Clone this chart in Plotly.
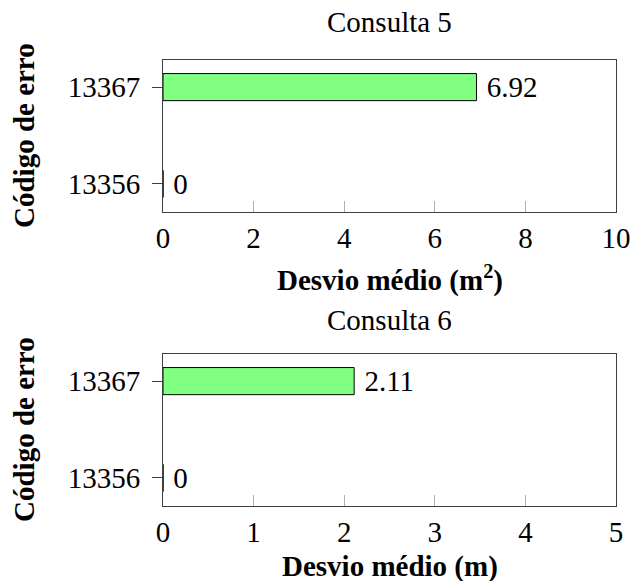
import plotly.graph_objects as go

categories = ["13356", "13367"]
values_c5 = [0, 6.92]
values_c6 = [0, 2.11]
labels_c5 = ["0", "6.92"]
labels_c6 = ["0", "2.11"]
xticks_c5 = [0, 2, 4, 6, 8, 10]
xticks_c6 = [0, 1, 2, 3, 4, 5]

W, H = 634, 581
FONT = "Liberation Serif, Times New Roman, serif"
FS = 29

fig = go.Figure()
for vals, labs, xa, ya in [(values_c5, labels_c5, "x", "y"), (values_c6, labels_c6, "x2", "y2")]:
    fig.add_trace(go.Bar(
        x=vals, y=categories, orientation="h", xaxis=xa, yaxis=ya,
        width=0.28, marker=dict(color="#80ff80", line=dict(color="black", width=1)),
        text=[" " + t for t in labs], textposition="outside", cliponaxis=False,
        constraintext="none",
        textfont=dict(family=FONT, size=FS, color="black"), showlegend=False,
    ))

def py(p):
    return 1 - p / H

xdom = [163 / W, 616 / W]
axis_common = dict(showline=True, mirror=True, linecolor="#404040", linewidth=1,
                   showgrid=False, zeroline=False, automargin=False,
                   tickfont=dict(family=FONT, size=FS, color="black"))
fig.update_layout(
    width=W, height=H, margin=dict(l=0, r=0, t=0, b=0, autoexpand=False),
    plot_bgcolor="white", paper_bgcolor="white",
    xaxis=dict(domain=xdom, range=[0, 10], tickvals=xticks_c5, ticks="inside", ticklen=11,
               tickcolor="#b0b0b0", anchor="y", **axis_common),
    yaxis=dict(domain=[py(212), py(60)], type="category",
               categoryarray=categories, range=[-0.29, 1.28], ticks="outside", ticklen=10,
               tickcolor="#404040", anchor="x", ticklabelstandoff=6, **axis_common),
    xaxis2=dict(domain=xdom, range=[0, 5], tickvals=xticks_c6, ticks="inside", ticklen=11,
                tickcolor="#b0b0b0", anchor="y2", **axis_common),
    yaxis2=dict(domain=[py(506), py(354)], type="category",
                categoryarray=categories, range=[-0.29, 1.28], ticks="outside", ticklen=10,
                tickcolor="#404040", anchor="x2", ticklabelstandoff=6, **axis_common),
)

cx = (163 + 616) / 2 / W
ann = [
    ("Consulta 5", cx, 22),
    ("Consulta 6", cx, 320),
    ("<b>Desvio médio (m<sup>2</sup>)</b>", cx, 278),
    ("<b>Desvio médio (m)</b>", cx, 566),
]
for text, x, y in ann:
    fig.add_annotation(text=text, x=x, y=py(y), xref="paper", yref="paper",
                       showarrow=False, xanchor="center", yanchor="middle",
                       font=dict(family=FONT, size=FS, color="black"))
for yc in [136, 430]:
    fig.add_annotation(text="<b>Código de erro</b>", x=24 / W, y=py(yc),
                       xref="paper", yref="paper", showarrow=False, textangle=-90,
                       xanchor="center", yanchor="middle",
                       font=dict(family=FONT, size=FS, color="black"))

fig.write_html(
    "out.html",
    config={"displayModeBar": False, "responsive": False, "staticPlot": True},
    post_script="document.documentElement.style.margin='0px';document.body.style.margin='0px';"
                "document.documentElement.style.overflow='hidden';document.body.style.overflow='hidden';",
)
